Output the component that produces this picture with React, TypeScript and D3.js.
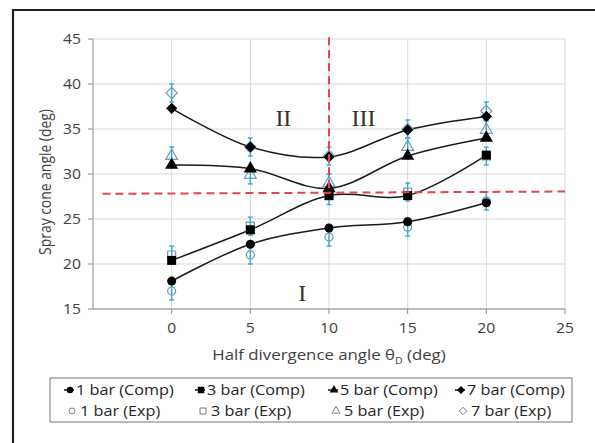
import React from 'react';
import * as d3 from 'd3';

const xValues = [0, 5, 10, 15, 20];
const comp1 = [18.1, 22.2, 24.0, 24.7, 26.8];
const comp3 = [20.4, 23.8, 27.6, 27.6, 32.1];
const comp5 = [31.0, 30.6, 28.4, 32.0, 34.0];
const comp7 = [37.3, 33.0, 31.9, 34.9, 36.4];
const exp1 = [17.0, 21.0, 23.0, 24.1, 27.0];
const exp3 = [21.0, 24.2, 27.6, 28.0, 32.0];
const exp5 = [32.0, 29.9, 29.0, 33.0, 34.9];
const exp7 = [39.0, 33.0, 32.0, 35.0, 37.0];
const errorBar = 1;
const xTicks = [0, 5, 10, 15, 20, 25];
const yTicks = [15, 20, 25, 30, 35, 40, 45];
const compLabels = ['1 bar (Comp)', '3 bar (Comp)', '5 bar (Comp)', '7 bar (Comp)'];
const expLabels = ['1 bar (Exp)', '3 bar (Exp)', '5 bar (Exp)', '7 bar (Exp)'];
const shapes = ['circle', 'square', 'triangle', 'diamond'];
const regionLabels = [
  { text: 'II', x: 7.1, y: 36.3 },
  { text: 'III', x: 12.2, y: 36.3 },
  { text: 'I', x: 8.3, y: 16.8 },
];

const W = 595;
const H = 443;
const x = d3.scaleLinear().domain([-5, 25]).range([93, 565]);
const y = d3.scaleLinear().domain([15, 45]).range([309, 39]);

function markerPath(shape: string, s: number): string {
  if (shape === 'circle') return d3.symbol(d3.symbolCircle, s * s * 0.8)()!;
  if (shape === 'square') return d3.symbol(d3.symbolSquare, s * s)()!;
  if (shape === 'triangle') return d3.symbol(d3.symbolTriangle, s * s * 0.75)()!;
  const h = s * 0.62;
  return `M0,${-h}L${h},0L0,${h}L${-h},0Z`;
}

const font = '"Open Sans", sans-serif';
const SX = 1.16;

export default function App() {
  const comps = [comp1, comp3, comp5, comp7];
  const exps = [exp1, exp3, exp5, exp7];
  const line = d3
    .line<number>()
    .x((_, i) => x(xValues[i]))
    .y((d) => y(d))
    .curve(d3.curveCatmullRom.alpha(0.5));
  const compSize = [9, 9, 10, 9];
  const expSize = [8, 8, 9, 9];
  const errColor = '#3aa8d8';
  const red = '#e8424a';
  const colX = [76, 207, 340, 467];
  const legendY1 = 390;
  const legendY2 = 411;

  return (
    <svg width={W} height={H} style={{ position: 'absolute', left: 0, top: 0, background: '#fff' }}>
      {/* outer frame */}
      <path d={`M13,${H + 5}V10H${W + 5}`} fill="none" stroke="#231f20" strokeWidth={2.2} />
      {/* grid */}
      {yTicks.map((t) => (
        <line key={'gy' + t} x1={x(-5)} x2={x(25)} y1={y(t)} y2={y(t)} stroke="#d9d9d9" strokeWidth={1} />
      ))}
      {xTicks.map((t) => (
        <line key={'gx' + t} x1={x(t)} x2={x(t)} y1={y(15)} y2={y(45)} stroke="#d9d9d9" strokeWidth={1} />
      ))}
      {/* axes */}
      <line x1={x(-5)} x2={x(-5)} y1={y(15)} y2={y(45)} stroke="#8c8c8c" strokeWidth={1} />
      <line x1={x(-5)} x2={x(25)} y1={y(15)} y2={y(15)} stroke="#8c8c8c" strokeWidth={1} />
      {yTicks.map((t) => (
        <g key={'yt' + t}>
          <line x1={x(-5) - 5} x2={x(-5)} y1={y(t)} y2={y(t)} stroke="#8c8c8c" />
          <text
            transform={`translate(81,${y(t)}) scale(1.12,1)`}
            dy="0.35em"
            textAnchor="end"
            fontFamily={font}
            fontSize={14}
            fill="#404040"
          >
            {t}
          </text>
        </g>
      ))}
      {xTicks.map((t) => (
        <g key={'xt' + t}>
          <line x1={x(t)} x2={x(t)} y1={y(15)} y2={y(15) + 5} stroke="#8c8c8c" />
          <text
            transform={`translate(${x(t)},328) scale(1.12,1)`}
            dy="0.35em"
            textAnchor="middle"
            fontFamily={font}
            fontSize={14}
            fill="#404040"
          >
            {t}
          </text>
        </g>
      ))}
      <text
        transform={`translate(329,355) scale(${SX},1)`}
        dy="0.35em"
        textAnchor="middle"
        fontFamily={font}
        fontSize={14.5}
        fill="#404040"
      >
        Half divergence angle θ
        <tspan fontSize={9} dy="4">D</tspan>
        <tspan dy="-4"> (deg)</tspan>
      </text>
      <text
        transform={`translate(45,182) rotate(-90) scale(1,${SX})`}
        dy="0.35em"
        textAnchor="middle"
        fontFamily={font}
        fontSize={13.9}
        fill="#404040"
      >
        Spray cone angle (deg)
      </text>
      {/* smooth comp lines */}
      {comps.map((c, i) => (
        <path key={'l' + i} d={line(c)!} fill="none" stroke="#1a1a1a" strokeWidth={1.5} />
      ))}
      {/* exp markers */}
      {exps.map((e, i) =>
        e.map((v, j) => (
          <path
            key={'e' + i + '-' + j}
            d={markerPath(shapes[i], expSize[i])}
            transform={`translate(${x(xValues[j])},${y(v)})`}
            fill="none"
            stroke="#6f9bb5"
            strokeWidth={1.2}
          />
        ))
      )}
      {/* error bars */}
      {exps.map((e, i) =>
        e.map((v, j) => {
          const cx = x(xValues[j]);
          return (
            <g key={'eb' + i + '-' + j} stroke={errColor} strokeWidth={1.4}>
              <line x1={cx} x2={cx} y1={y(v - errorBar)} y2={y(v + errorBar)} />
              <line x1={cx - 2.5} x2={cx + 2.5} y1={y(v - errorBar)} y2={y(v - errorBar)} />
              <line x1={cx - 2.5} x2={cx + 2.5} y1={y(v + errorBar)} y2={y(v + errorBar)} />
            </g>
          );
        })
      )}
      {/* comp markers */}
      {comps.map((c, i) =>
        c.map((v, j) => (
          <path
            key={'c' + i + '-' + j}
            d={markerPath(shapes[i], compSize[i])}
            transform={`translate(${x(xValues[j])},${y(v)})`}
            fill="#000"
          />
        ))
      )}
      {/* red dashed lines */}
      <line x1={x(10)} x2={x(10)} y1={y(45.2)} y2={y(27.9)} stroke={red} strokeWidth={2} strokeDasharray="8,5" />
      <line x1={x(-4.4)} x2={x(25)} y1={y(27.8)} y2={y(28.05)} stroke={red} strokeWidth={2} strokeDasharray="8,5" />
      {/* region labels */}
      {regionLabels.map((r) => (
        <text
          key={r.text}
          x={x(r.x)}
          y={y(r.y)}
          dy="0.35em"
          textAnchor="middle"
          fontFamily='"Liberation Serif", serif'
          fontSize={24}
          fill="#333"
        >
          {r.text}
        </text>
      ))}
      {/* legend */}
      <rect x={50} y={378} width={522} height={44} fill="#fff" stroke="#8c8c8c" strokeWidth={1.2} />
      {compLabels.map((lab, i) => (
        <g key={'lc' + i}>
          <line x1={colX[i] - 12} x2={colX[i] - 2} y1={legendY1} y2={legendY1} stroke="#1a1a1a" strokeWidth={1.5} />
          <path
            d={markerPath(shapes[i], 6.5)}
            transform={`translate(${colX[i] - 6},${legendY1})`}
            fill="#000"
          />
          <text
            transform={`translate(${colX[i]},${legendY1}) scale(${SX},1)`}
            dy="0.35em"
            fontFamily={font}
            fontSize={14}
            fill="#262626"
          >
            {lab}
          </text>
        </g>
      ))}
      {expLabels.map((lab, i) => (
        <g key={'le' + i}>
          <path
            d={markerPath(shapes[i], 6)}
            transform={`translate(${colX[i] - 4},${legendY2})`}
            fill="none"
            stroke="#7f7f7f"
            strokeWidth={1}
          />
          <text
            transform={`translate(${colX[i] + 4},${legendY2}) scale(${SX},1)`}
            dy="0.35em"
            fontFamily={font}
            fontSize={14}
            fill="#262626"
          >
            {lab}
          </text>
        </g>
      ))}
    </svg>
  );
}
